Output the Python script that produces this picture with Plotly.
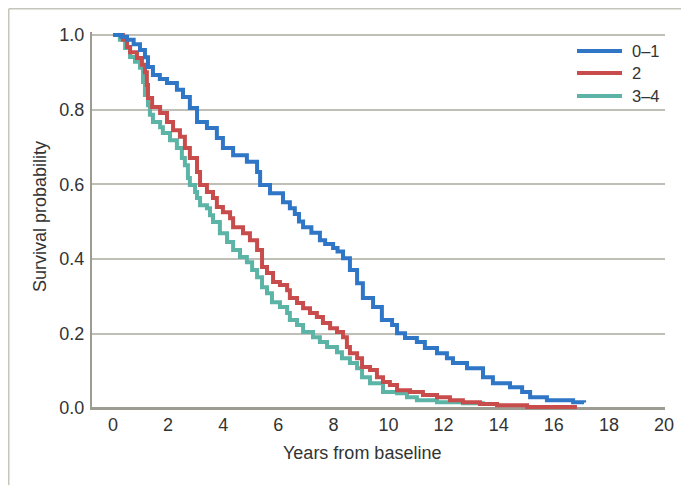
import plotly.graph_objects as go

# ---- data ----
group_names = ["0\u20131", "2", "3\u20134"]

blue_years = [0, 0.07, 0.3, 0.51, 0.75, 0.98, 1.16, 1.27, 1.45, 1.7,
              1.96, 2.32, 2.54, 2.79, 3.05, 3.41, 3.77, 3.99, 4.36, 4.86,
              5.23, 5.34, 5.70, 6.17, 6.42, 6.6, 6.75, 6.9, 7.2, 7.51,
              7.7, 7.99, 8.15, 8.35, 8.6, 8.86, 9.07, 9.44, 9.76, 10.13,
              10.31, 10.6, 11.03, 11.32, 11.76, 12.12, 12.34, 12.85, 13.43, 13.79,
              14.41, 14.85, 15.14, 15.75, 16.7, 17.1]
blue_surv = [1.0, 1.0, .995, .987, .975, .96, .94, .914, .893, .882,
             .871, .853, .834, .804, .767, .751, .724, .697, .678, .66,
             .633, .598, .576, .552, .536, .52, .50, .485, .47, .45,
             .44, .429, .42, .402, .37, .335, .295, .271, .236, .223,
             .201, .188, .177, .161, .147, .134, .121, .107, .083, .067,
             .056, .043, .029, .021, .016, .015]

red_years = [0, 0.15, 0.36, 0.51, 0.62, 0.87, 1.05, 1.16, 1.23, 1.27,
             1.42, 1.71, 1.96, 2.18, 2.43, 2.61, 2.79, 3.05, 3.16, 3.41,
             3.63, 3.77, 3.99, 4.25, 4.36, 4.72, 4.97, 5.23, 5.41, 5.59,
             5.81, 6.06, 6.32, 6.42, 6.68, 6.9, 7.15, 7.4, 7.62, 7.88,
             8.13, 8.35, 8.49, 8.6, 8.86, 9.04, 9.33, 9.58, 9.8, 10.05,
             10.31, 10.78, 11.25, 11.76, 12.23, 12.7, 13.32, 13.94, 15.03, 16.84]
red_surv = [1.0, 1.0, .987, .968, .954, .938, .92, .90, .866, .831,
            .807, .791, .767, .745, .727, .697, .67, .633, .598, .579,
            .563, .539, .525, .509, .485, .469, .45, .424, .378, .362,
            .338, .33, .316, .295, .282, .268, .255, .244, .228, .214,
            .204, .19, .164, .147, .134, .11, .102, .083, .07, .062,
            .048, .043, .035, .029, .021, .016, .011, .008, .003, .003]

teal_years = [0, 0.1, 0.25, 0.44, 0.62, 0.8, 0.98, 1.09, 1.16, 1.27,
              1.34, 1.45, 1.71, 1.81, 2.07, 2.32, 2.5, 2.61, 2.72, 2.79,
              2.98, 3.05, 3.16, 3.41, 3.52, 3.63, 3.88, 4.14, 4.36, 4.61,
              4.86, 5.05, 5.23, 5.41, 5.59, 5.77, 6.06, 6.32, 6.42, 6.68,
              6.9, 7.26, 7.51, 7.77, 8.13, 8.31, 8.6, 8.86, 9.04, 9.33,
              9.8, 10.31, 10.67, 11.03, 11.76, 12.7, 13.5]
teal_surv = [1.0, 1.0, .987, .965, .941, .928, .912, .874, .839, .812,
             .786, .767, .753, .737, .718, .697, .67, .651, .617, .598,
             .579, .563, .544, .536, .517, .499, .469, .445, .424, .405,
             .391, .37, .351, .324, .308, .284, .271, .255, .236, .223,
             .204, .19, .177, .164, .15, .134, .121, .107, .083, .067,
             .043, .04, .029, .021, .016, .013, .013]

x_ticks = [0, 2, 4, 6, 8, 10, 12, 14, 16, 18, 20]
y_ticks = [0.0, 0.2, 0.4, 0.6, 0.8, 1.0]

colors = ["#2f76c6", "#c94c4c", "#5cb4a6"]
series = [(blue_years, blue_surv), (red_years, red_surv), (teal_years, teal_surv)]

FONT = "Liberation Sans, Arial, sans-serif"
TXT = "#333333"

fig = go.Figure()
for idx in [2, 1, 0]:
    xs, ys = series[idx]
    fig.add_trace(go.Scatter(
        x=xs, y=ys, mode="lines", line_shape="hv",
        line=dict(color=colors[idx], width=4),
        name=group_names[idx], showlegend=False, hoverinfo="skip"))

# The page body has an 8px margin; figure is sized to fit the window.
OFF = 8
W, H = 689 - OFF, 485 - OFF
# plot area in page pixels: x 92..665, y 32..410
L, R, T, B = 92 - OFF, 689 - 665, 32 - OFF, 485 - 410
pw, ph = W - L - R, H - T - B

def px_x(p):
    return (p - OFF - L) / pw

def px_y(p):
    return (H - B - (p - OFF)) / ph

shapes = []
# outer open frame (top + left)
frame_col = "#c5c5bb"
shapes.append(dict(type="line", xref="paper", yref="paper",
                   x0=px_x(OFF + 0.75), x1=px_x(689 + 4), y0=px_y(OFF + 0.75), y1=px_y(OFF + 0.75),
                   line=dict(color=frame_col, width=1.5)))
shapes.append(dict(type="line", xref="paper", yref="paper",
                   x0=px_x(OFF + 0.75), x1=px_x(OFF + 0.75), y0=px_y(OFF + 0.75), y1=px_y(485 + 4),
                   line=dict(color=frame_col, width=1.5)))

annotations = []
# manual legend
leg_rows = [51, 73, 96]
for i, name in enumerate(group_names):
    yy = px_y(leg_rows[i])
    shapes.append(dict(type="line", xref="paper", yref="paper",
                       x0=px_x(577), x1=px_x(622), y0=yy, y1=yy,
                       line=dict(color=colors[i], width=4)))
    annotations.append(dict(xref="paper", yref="paper", x=px_x(630), y=yy,
                            text=name, showarrow=False, xanchor="left",
                            yanchor="middle",
                            font=dict(family=FONT, size=16.5, color=TXT)))

annotations.append(dict(xref="paper", yref="paper", x=px_x(362), y=px_y(453),
                        text="Years from baseline", showarrow=False,
                        xanchor="center", yanchor="middle",
                        font=dict(family=FONT, size=18, color=TXT)))
annotations.append(dict(xref="paper", yref="paper", x=px_x(40), y=px_y(217),
                        text="Survival probability", showarrow=False,
                        textangle=-90, xanchor="center", yanchor="middle",
                        font=dict(family=FONT, size=18, color=TXT)))

fig.update_layout(
    width=W, height=H,
    margin=dict(l=L, r=R, t=T, b=B, pad=0),
    paper_bgcolor="white", plot_bgcolor="white",
    showlegend=False,
    shapes=shapes, annotations=annotations,
    font=dict(family=FONT, size=18, color=TXT),
    xaxis=dict(range=[-0.762, 20.036], tickvals=x_ticks,
               ticktext=[str(v) for v in x_ticks],
               showgrid=False, zeroline=False, showline=False,
               ticks="", ticklabelstandoff=2,
               tickfont=dict(family=FONT, size=18, color=TXT)),
    yaxis=dict(range=[-0.005, 1.008], tickvals=y_ticks,
               ticktext=["%.1f" % v for v in y_ticks],
               showgrid=True, gridcolor="#bfbfb7", gridwidth=1.5,
               zeroline=True, zerolinecolor="#9c9c92", zerolinewidth=2.5,
               showline=True, linecolor="#9c9c92", linewidth=2,
               ticks="", ticklabelstandoff=2,
               tickfont=dict(family=FONT, size=18, color=TXT)),
)

fig.write_html("out.html")
